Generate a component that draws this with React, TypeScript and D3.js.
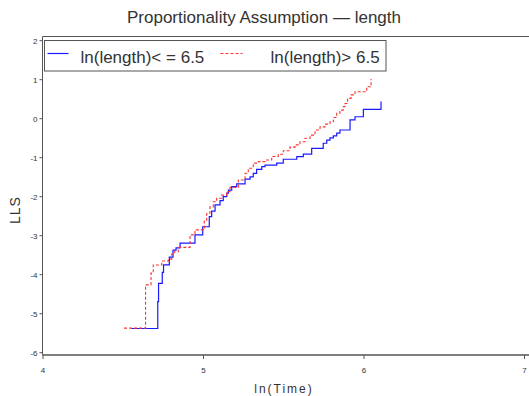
import React from "react";
import * as d3 from "d3";

const title = "Proportionality Assumption \u2014 length";
const xLabel = "ln(Time)";
const yLabel = "LLS";
const xTicks = [4, 5, 6, 7];
const yTicks = [2, 1, 0, -1, -2, -3, -4, -5, -6];
const seriesNames = ["ln(length)< = 6.5", "ln(length)> 6.5"];

// Blue: ln(length) <= 6.5  (step points: x, y)
const lowX = [4.548, 4.715, 4.72, 4.743, 4.751, 4.787, 4.81, 4.829, 4.854, 4.947, 4.995, 5.036, 5.051, 5.072, 5.103, 5.123, 5.145, 5.155, 5.176, 5.207, 5.259, 5.29, 5.31, 5.331, 5.363, 5.383, 5.456, 5.497, 5.581, 5.622, 5.674, 5.746, 5.768, 5.788, 5.809, 5.83, 5.85, 5.913, 5.944, 5.996, 6.106];
const lowY = [-5.38, -4.69, -4.22, -3.94, -3.75, -3.55, -3.37, -3.31, -3.19, -2.98, -2.77, -2.51, -2.37, -2.21, -2.1, -2.0, -1.91, -1.83, -1.74, -1.67, -1.55, -1.49, -1.4, -1.3, -1.23, -1.19, -1.14, -1.04, -0.97, -0.91, -0.76, -0.63, -0.55, -0.49, -0.44, -0.37, -0.29, -0.03, 0.05, 0.24, 0.44];

// Red: ln(length) > 6.5
const highX = [4.505, 4.639, 4.673, 4.687, 4.74, 4.781, 4.802, 4.818, 4.843, 4.916, 4.947, 5.005, 5.02, 5.04, 5.061, 5.082, 5.113, 5.145, 5.165, 5.217, 5.259, 5.279, 5.31, 5.341, 5.383, 5.425, 5.466, 5.497, 5.539, 5.57, 5.601, 5.632, 5.664, 5.695, 5.726, 5.757, 5.788, 5.809, 5.83, 5.85, 5.871, 5.882, 5.898, 5.919, 5.944, 6.017, 6.044];
const highY = [-5.37, -4.26, -3.96, -3.75, -3.65, -3.6, -3.47, -3.41, -3.3, -2.98, -2.85, -2.6, -2.43, -2.26, -2.13, -2.04, -1.96, -1.87, -1.76, -1.57, -1.4, -1.27, -1.14, -1.1, -1.06, -0.97, -0.91, -0.82, -0.73, -0.67, -0.59, -0.5, -0.42, -0.29, -0.21, -0.14, -0.08, 0.03, 0.14, 0.22, 0.31, 0.39, 0.52, 0.61, 0.69, 0.82, 1.02];

export default function App() {
  const W = 529, H = 396;
  const x = d3.scaleLinear().domain([4, 7]).range([43, 524.5]);
  const y = d3.scaleLinear().domain([2, -6]).range([40.7, 352.7]);
  const left = 42.5, top = 36.5, bottom = 355, right = 560;

  const line = d3
    .line<[number, number]>()
    .x((d) => x(d[0]))
    .y((d) => y(d[1]))
    .curve(d3.curveStepAfter);

  const lowPts = lowX.map((v, i) => [v, lowY[i]] as [number, number]);
  const highPts = highX.map((v, i) => [v, highY[i]] as [number, number]);

  const tickFont = "'Liberation Sans', Arial, sans-serif";
  const frameColor = "#555";

  return (
    <svg
      width={W}
      height={H}
      style={{ position: "absolute", left: 0, top: 0, background: "#fff" }}
    >
      <text
        x={264}
        y={23}
        textAnchor="middle"
        fontFamily={tickFont}
        fontSize={17}
        fill="#333"
      >
        {title}
      </text>

      {/* frame */}
      <line x1={left} x2={right} y1={top} y2={top} stroke={frameColor} strokeWidth={1} />
      <line x1={left} x2={left} y1={top} y2={bottom} stroke={frameColor} strokeWidth={1} />
      <line x1={left} x2={right} y1={bottom} y2={bottom} stroke={frameColor} strokeWidth={1.5} />

      {/* y ticks */}
      {yTicks.map((t) => (
        <g key={"y" + t}>
          <line x1={left - 3} x2={left} y1={y(t)} y2={y(t)} stroke={frameColor} />
          <text
            x={left - 5}
            y={y(t) + 3}
            textAnchor="end"
            fontFamily={tickFont}
            fontSize={8}
            fill="#333"
          >
            {t < 0 ? "-" + Math.abs(t) : t}
          </text>
        </g>
      ))}

      {/* x ticks */}
      {xTicks.map((t) => (
        <g key={"x" + t}>
          <line x1={x(t)} x2={x(t)} y1={bottom} y2={bottom + 4} stroke={frameColor} />
          <text
            x={x(t)}
            y={373}
            textAnchor="middle"
            fontFamily={tickFont}
            fontSize={8}
            fill="#333"
          >
            {t}
          </text>
        </g>
      ))}

      {/* axis labels */}
      <text
        x={284}
        y={393}
        textAnchor="middle"
        fontFamily={tickFont}
        fontSize={12}
        letterSpacing={2}
        fill="#333"
      >
        {xLabel}
      </text>
      <text
        transform={`translate(20,210) rotate(-90)`}
        textAnchor="middle"
        fontFamily={tickFont}
        fontSize={14}
        letterSpacing={1}
        fill="#333"
      >
        {yLabel}
      </text>

      {/* series */}
      <path d={line(lowPts) || ""} fill="none" stroke="#1a1aff" strokeWidth={1.2} />
      <path
        d={line(highPts) || ""}
        fill="none"
        stroke="#ff3030"
        strokeWidth={1.1}
        strokeDasharray="3,2"
      />

      {/* legend */}
      <rect x={44.5} y={40.5} width={341.5} height={30.5} fill="#fff" stroke={frameColor} strokeWidth={1} />
      <line x1={47.5} x2={68.5} y1={53.5} y2={53.5} stroke="#1a1aff" strokeWidth={1.2} />
      <text x={80.5} y={63} fontFamily={tickFont} fontSize={17} fill="#333">
        {seriesNames[0]}
      </text>
      <line
        x1={220.5}
        x2={242.5}
        y1={53.5}
        y2={53.5}
        stroke="#ff3030"
        strokeWidth={1.1}
        strokeDasharray="3,2"
      />
      <text x={270.5} y={63} fontFamily={tickFont} fontSize={17} fill="#333">
        {seriesNames[1]}
      </text>
    </svg>
  );
}
